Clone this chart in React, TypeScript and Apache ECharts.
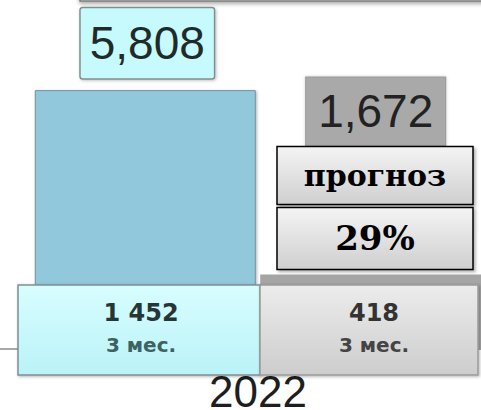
import React, { useEffect, useRef } from "react";
import * as echarts from "echarts";

const categories = ["2022"];
const factValues = [5808];
const forecastValues = [1672];
const factPeriodValues = [1452];
const forecastPeriodValues = [418];
const periodLabel = "3 мес.";
const forecastTag = "прогноз";
const forecastShare = "29%";
const yMax = 7000;

const commaFmt = (v: number) => v.toLocaleString("en-US");
const spaceFmt = (v: number) => String(v).replace(/\B(?=(\d{3})+(?!\d))/g, " ");

export default function App() {
  const ref = useRef<HTMLDivElement>(null);
  useEffect(() => {
    if (!ref.current) return;
    const chart = echarts.init(ref.current, null, { renderer: "svg" });
    const G = echarts.graphic;
    const grayGrad = () =>
      new G.LinearGradient(0, 0, 0, 1, [
        { offset: 0, color: "#f4f4f4" },
        { offset: 1, color: "#cfcfcf" },
      ]);
    // [category index, y value for placement, displayed value, kind]
    const overlayData = [
      [0, 0, factPeriodValues[0], 0],
      [0, 0, forecastPeriodValues[0], 1],
      [0, forecastValues[0], forecastValues[0], 2],
    ];
    const boxShadow = {
      shadowBlur: 3,
      shadowColor: "rgba(0,0,0,0.3)",
      shadowOffsetX: 2,
      shadowOffsetY: 2,
    };
    const option: any = {
      animation: false,
      grid: { left: 0, right: 0, top: 37, bottom: 61, outerBoundsMode: "none", containLabel: false },
      xAxis: {
        type: "category",
        data: categories,
        axisLine: { show: true, lineStyle: { color: "#8a8a8a", width: 1.5 } },
        axisTick: { show: false },
        axisLabel: {
          fontSize: 44,
          lineHeight: 36,
          color: "#1e1e1e",
          margin: 24,
          fontFamily: "Liberation Sans, Arial, sans-serif",
        },
      },
      yAxis: { type: "value", min: 0, max: yMax, show: false },
      graphic: [
        {
          type: "rect",
          shape: { x: 80, y: -20, width: 460, height: 21 },
          style: {
            fill: "#fff",
            stroke: "#7a7a7a",
            lineWidth: 1.5,
            shadowBlur: 4,
            shadowColor: "rgba(0,0,0,0.35)",
            shadowOffsetY: 2,
          },
        },
      ],
      series: [
        {
          name: "факт",
          type: "bar",
          data: factValues,
          barWidth: 221,
          barGap: "2%",
          itemStyle: {
            color: "#92c8db",
            borderColor: "#71939e",
            borderWidth: 1,
            shadowBlur: 3,
            shadowColor: "rgba(0,0,0,0.3)",
            shadowOffsetX: 1,
            shadowOffsetY: 1,
          },
          label: {
            show: true,
            position: "top",
            distance: 12,
            offset: [2, 0],
            formatter: (p: any) => commaFmt(p.value),
            fontSize: 46,
            lineHeight: 48,
            color: "#1f2a2a",
            fontFamily: "Liberation Sans, Arial, sans-serif",
            backgroundColor: "#c6fafc",
            borderColor: "#7f8f8f",
            borderWidth: 1.5,
            borderRadius: 2,
            padding: [11, 9, 11, 9],
            shadowBlur: 3,
            shadowColor: "rgba(0,0,0,0.25)",
            shadowOffsetX: 1,
            shadowOffsetY: 1,
          },
        },
        {
          name: "прогноз",
          type: "bar",
          data: forecastValues,
          barWidth: 221,
          itemStyle: { color: "#a5a5a5" },
          label: {
            show: true,
            position: "top",
            distance: 129,
            offset: [5, 0],
            formatter: (p: any) => commaFmt(p.value),
            fontSize: 46,
            lineHeight: 48,
            color: "#222",
            fontFamily: "Liberation Sans, Arial, sans-serif",
            backgroundColor: "#a9a9a9",
            borderColor: "#999",
            borderWidth: 1,
            padding: [10, 12, 10, 12],
            shadowBlur: 3,
            shadowColor: "rgba(0,0,0,0.2)",
          },
        },
        {
          name: "overlay",
          type: "custom",
          z: 10,
          clip: false,
          data: overlayData,
          encode: { x: 0, y: 1 },
          renderItem: (params: any, api: any) => {
            const kind = api.value(3);
            const val = api.value(2);
            const base = api.coord([api.value(0), api.value(1)]);
            if (kind === 2) {
              const x0 = base[0] + 19;
              const w = 196;
              const cx = x0 + w / 2;
              const y1 = base[1] - 128;
              const y2 = base[1] - 67;
              return {
                type: "group",
                children: [
                  {
                    type: "rect",
                    shape: { x: x0, y: y1, width: w, height: 58 },
                    style: { fill: grayGrad(), stroke: "#000", lineWidth: 1.5, ...boxShadow },
                  },
                  {
                    type: "text",
                    x: cx,
                    y: y1 + 29,
                    style: {
                      text: forecastTag,
                      fill: "#000",
                      fontSize: 30,
                      fontWeight: "bold",
                      fontFamily: "DejaVu Serif, serif",
                      align: "center",
                      verticalAlign: "middle",
                    },
                  },
                  {
                    type: "rect",
                    shape: { x: x0, y: y2, width: w, height: 62 },
                    style: { fill: grayGrad(), stroke: "#000", lineWidth: 1.5, ...boxShadow },
                  },
                  {
                    type: "text",
                    x: cx,
                    y: y2 + 31,
                    style: {
                      text: forecastShare,
                      fill: "#000",
                      fontSize: 34,
                      fontWeight: "bold",
                      fontFamily: "DejaVu Serif, serif",
                      align: "center",
                      verticalAlign: "middle",
                    },
                  },
                ],
              };
            }
            const x0 = kind === 0 ? base[0] - 240 : base[0] + 2;
            const w = kind === 0 ? 242 : 218;
            const y0 = base[1] - 64;
            const h = 90;
            const fill =
              kind === 0
                ? new G.LinearGradient(0, 0, 0, 1, [
                    { offset: 0, color: "#d8fdff" },
                    { offset: 1, color: "#baf3f8" },
                  ])
                : new G.LinearGradient(0, 0, 0, 1, [
                    { offset: 0, color: "#ececec" },
                    { offset: 1, color: "#cdcdcd" },
                  ]);
            const cx = x0 + w / 2 + (kind === 0 ? 2 : 5);
            return {
              type: "group",
              children: [
                {
                  type: "rect",
                  shape: { x: x0, y: y0, width: w, height: h },
                  style: {
                    fill,
                    stroke: kind === 0 ? "#7f9090" : "#9a9a9a",
                    lineWidth: 1.5,
                    shadowBlur: 3,
                    shadowColor: "rgba(0,0,0,0.3)",
                    shadowOffsetX: 1,
                    shadowOffsetY: 1,
                  },
                },
                {
                  type: "text",
                  x: cx,
                  y: y0 + 28,
                  style: {
                    text: spaceFmt(val),
                    fill: kind === 0 ? "#263636" : "#333",
                    fontSize: 24,
                    fontWeight: "bold",
                    fontFamily: "DejaVu Sans, sans-serif",
                    align: "center",
                    verticalAlign: "middle",
                  },
                },
                {
                  type: "text",
                  x: cx,
                  y: y0 + 60,
                  style: {
                    text: periodLabel,
                    fill: kind === 0 ? "#3d6262" : "#444",
                    fontSize: 20,
                    fontWeight: "bold",
                    fontFamily: "DejaVu Sans, sans-serif",
                    align: "center",
                    verticalAlign: "middle",
                  },
                },
              ],
            };
          },
        },
      ],
    };
    chart.setOption(option);
    return () => chart.dispose();
  }, []);
  return (
    <div
      style={{
        position: "absolute",
        left: 0,
        top: 0,
        width: 481,
        height: 410,
        overflow: "hidden",
      }}
    >
      <div ref={ref} style={{ width: 516, height: 410 }} />
    </div>
  );
}
